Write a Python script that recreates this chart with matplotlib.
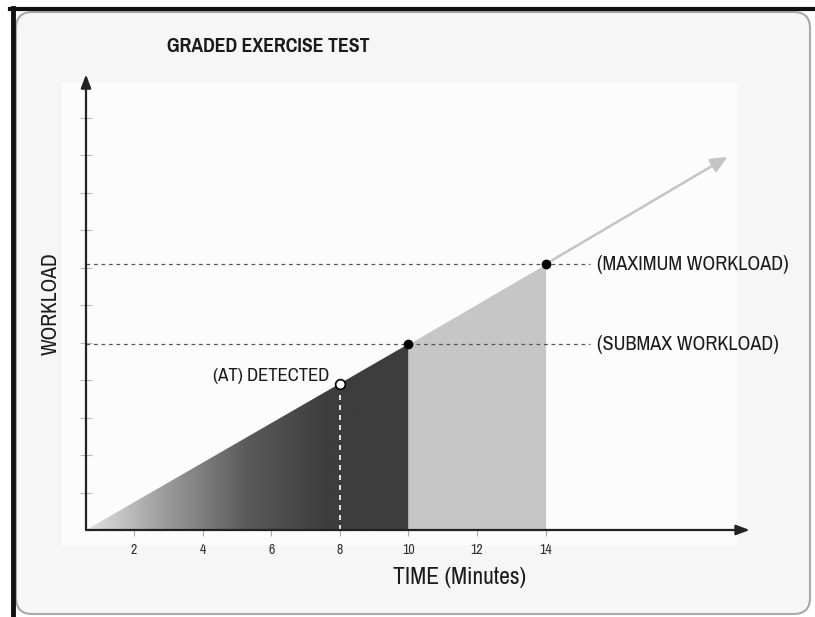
import matplotlib
matplotlib.use("Agg")
from matplotlib import pyplot as plt
from matplotlib.patches import FancyBboxPatch, Rectangle, Polygon
from matplotlib.colors import LinearSegmentedColormap
from matplotlib.lines import Line2D
import numpy as np

plt.rcParams['font.family'] = ['Archivo Narrow', 'Roboto Condensed', 'DejaVu Sans']

# data (time in minutes, workload in axis units)
time_ticks = [2, 4, 6, 8, 10, 12, 14]
workload_ticks = [1, 2, 3, 4, 5, 6, 7, 8, 9, 10, 11]
ramp_start = (0.6, 0.0)
arrow_end = (19.3, 9.95)
at_time, at_load = 8, 3.9
submax_time, submax_load = 10, 4.96
max_time, max_load = 14, 7.09
labels = {"max": "(MAXIMUM WORKLOAD)", "submax": "(SUBMAX WORKLOAD)", "at": "(AT) DETECTED"}

W, H = 815, 617
fig = plt.figure(figsize=(W / 100, H / 100), dpi=100)
fig.patch.set_facecolor("white")

# panel with rounded corners + black frame lines
panel = FancyBboxPatch((16 / W, 3 / H), 794 / W, 602 / H,
                       boxstyle="round,pad=0,rounding_size=0.02",
                       transform=fig.transFigure, facecolor="#f6f6f6",
                       edgecolor="#a8a8a8", linewidth=1.5, mutation_aspect=W / H,
                       zorder=-10)
fig.patches.append(panel)
fig.patches.append(Rectangle((62 / W, 1 - 545 / H), 675 / W, 463 / H,
                             transform=fig.transFigure, facecolor="#fcfcfc",
                             edgecolor="none", zorder=-9))
fig.lines.append(Line2D([10 / W, 1], [1 - 9 / H, 1 - 9 / H], transform=fig.transFigure,
                        color="#111111", linewidth=3, zorder=-8))
fig.lines.append(Line2D([12.5 / W, 12.5 / W], [0, 1 - 8 / H], transform=fig.transFigure,
                        color="#111111", linewidth=3.5, zorder=-8))

x0, x1, y1 = 0.6, 20.0, 12.3
ax = fig.add_axes([86 / W, 1 - 530 / H, (x1 - x0) * 34.3 / W, y1 * 37.5 / H])
ax.set_xlim(x0, x1)
ax.set_ylim(0, y1)
ax.patch.set_alpha(0)
for s in ax.spines.values():
    s.set_visible(False)

# gradient region up to submax
tri = Polygon([ramp_start, (submax_time, submax_load), (submax_time, 0)],
              closed=True, facecolor="none", edgecolor="none")
ax.add_patch(tri)
gx = np.linspace(0, 1, 400)
grad = np.clip(gx / 0.75, 0, 1)[None, :]
cmap = LinearSegmentedColormap.from_list("g", ["#e2e2e2", "#9a9a9a", "#5a5a5a", "#3d3d3d"])
im = ax.imshow(grad, extent=[ramp_start[0], submax_time, 0, submax_load], aspect="auto",
               cmap=cmap, origin="lower", zorder=1)
im.set_clip_path(tri)

# light region submax -> max
ax.fill_between([submax_time, max_time], [submax_load, max_load], 0,
                color="#c6c6c6", linewidth=0, zorder=1)

# continuation arrow
ax.annotate("", xy=arrow_end, xytext=(max_time, max_load),
            arrowprops=dict(arrowstyle="-|>,head_length=1.0,head_width=0.45",
                            color="#c4c4c4", lw=1.8, shrinkA=0, shrinkB=0), zorder=2)

# dashed reference lines
ax.plot([x0, 15.3], [max_load, max_load], ls=(0, (3, 3)), color="#555555", lw=0.9, zorder=3)
ax.plot([x0, 15.3], [submax_load, submax_load], ls=(0, (3, 3)), color="#555555", lw=0.9, zorder=3)
ax.plot([at_time, at_time], [0, at_load], ls=(0, (3, 3)), color="white", lw=1.2, zorder=3)

# points
ax.plot([submax_time, max_time], [submax_load, max_load], "o", color="black", ms=6, zorder=5)
ax.plot([at_time], [at_load], "o", mfc="white", mec="black", mew=1.2, ms=7, zorder=5)

# labels
ax.text(15.5, max_load, labels["max"], fontsize=14.5, va="center", ha="left", color="#1a1a1a")
ax.text(15.5, submax_load, labels["submax"], fontsize=14.5, va="center", ha="left", color="#1a1a1a")
ax.text(7.7, 4.1, labels["at"], fontsize=13.5, va="center", ha="right", color="#1a1a1a")

# axes with arrows
ax.annotate("", xy=(19.95, 0), xytext=(x0, 0),
            arrowprops=dict(arrowstyle="-|>,head_length=0.8,head_width=0.3",
                            color="#222222", lw=1.6, shrinkA=0, shrinkB=0), zorder=4,
            annotation_clip=False)
ax.annotate("", xy=(x0, 12.15), xytext=(x0, 0),
            arrowprops=dict(arrowstyle="-|>,head_length=0.8,head_width=0.3",
                            color="#222222", lw=1.6, shrinkA=0, shrinkB=0), zorder=4,
            annotation_clip=False)

ax.set_xticks(time_ticks)
ax.set_xticklabels([str(t) for t in time_ticks])
ax.set_yticks(workload_ticks)
ax.set_yticklabels([])
ax.tick_params(axis="x", direction="out", length=4.5, width=0.8, color="#aaaaaa",
               labelsize=10, labelcolor="#333333", pad=5)
ax.tick_params(axis="y", direction="inout", length=9, width=0.8, color="#b8b8b8")

fig.text(268 / W, 1 - 46 / H, "GRADED EXERCISE TEST", fontsize=15.5, fontweight="bold",
         family=["Pragati Narrow", "Roboto Condensed", "DejaVu Sans"],
         ha="center", va="center", color="#1a1a1a")
fig.text(460 / W, 1 - 578 / H, "TIME (Minutes)", fontsize=17, ha="center", va="center",
         color="#1a1a1a")
fig.text(51 / W, 1 - 304 / H, "WORKLOAD", fontsize=15.5, rotation=90, ha="center",
         va="center", color="#1a1a1a")

fig.savefig("out.png", dpi=100)
